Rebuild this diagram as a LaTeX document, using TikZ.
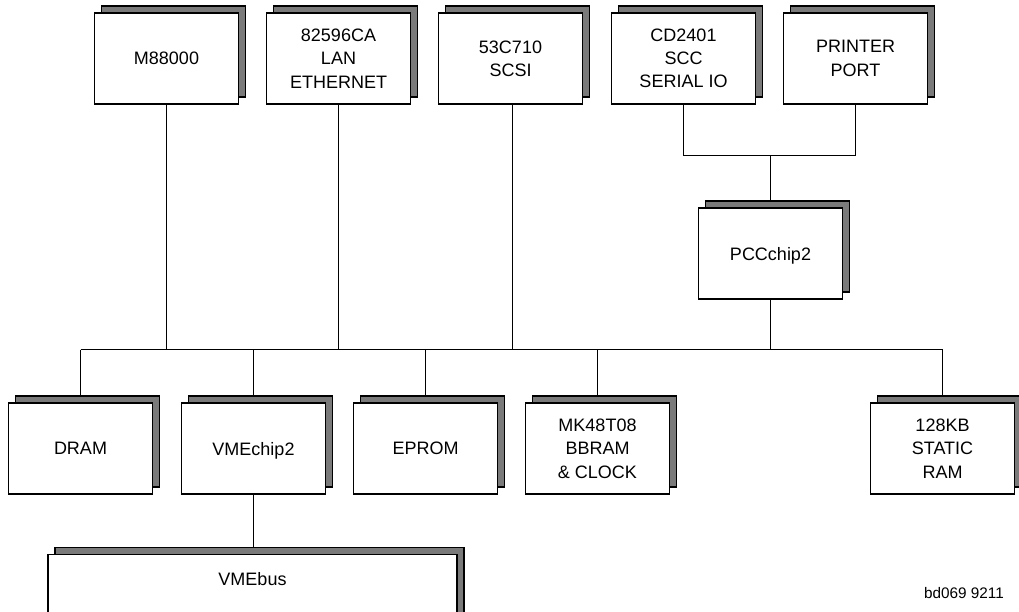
\documentclass[tikz,border=0pt]{standalone}
\usepackage{fontspec}
\setmainfont{Liberation Sans}
\usetikzlibrary{shadows}
\definecolor{shadowgray}{HTML}{7A7A7A}
\pgfdeclarelayer{bg}
\pgfsetlayers{bg,main}
\tikzset{
  chip/.style={draw=black, fill=white, line width=1.2pt, inner sep=0pt,
    minimum width=144pt, minimum height=91pt, align=center,
    font=\fontsize{18}{23.3}\selectfont,
    general shadow={shadow xshift=7pt, shadow yshift=7pt, fill=shadowgray, draw=black, line width=1.2pt}},
  nodesc/.style={text depth=0pt},
  wire/.style={draw=black, line width=1.2pt}
}
\begin{document}
\begin{tikzpicture}[x=1pt, y=-1pt]
\path[use as bounding box, clip] (0,0) rectangle (1019,612);
% top row
\node[chip] (m88) at (166.5,58.5) {M88000};
\node[chip] (lan) at (338.5,58.5) {82596CA\\LAN\\ETHERNET};
\node[chip] (scsi) at (510.5,58.5) {53C710\\SCSI};
\node[chip] (scc) at (683.5,58.5) {CD2401\\SCC\\SERIAL IO};
\node[chip] (prn) at (855.5,58.5) {PRINTER\\PORT};
\node[chip, nodesc] (pcc) at (770.5,253.5) {PCCchip2};
% bottom row
\node[chip] (dram) at (80.5,448.5) {DRAM};
\node[chip, nodesc] (vme) at (253.5,448.5) {VMEchip2};
\node[chip] (eprom) at (425.5,448.5) {EPROM};
\node[chip] (bbram) at (597.5,448.5) {MK48T08\\BBRAM\\\&~CLOCK};
\node[chip] (sram) at (942.5,448.5) {128KB\\STATIC\\RAM};
\node[chip, minimum width=409pt, anchor=north] (vmebus) at (252.5,554) {};
\node[font=\fontsize{18}{23.3}\selectfont, text depth=0pt] (vmebustxt) at (252.5,579) {VMEbus};
\node[font=\fontsize{15.3}{18}\selectfont, text depth=0pt] (tag) at (964,593) {bd069 9211};
\coordinate (j) at (770.5,155.5);
\coordinate (bus) at (0,349.5);
\begin{pgfonlayer}{bg}
\fill[white] (0,0) rectangle (1019,612);
\draw[wire] (scc.south) -- (scc.south |- j) -| (prn.south);
\draw[wire] (j) -- (pcc.north);
\draw[wire] (dram.north |- bus) -- (sram.north |- bus);
\draw[wire] (m88.south) -- (m88.south |- bus);
\draw[wire] (lan.south) -- (lan.south |- bus);
\draw[wire] ([xshift=2pt]scsi.south) -- ([xshift=2pt]scsi.south |- bus);
\draw[wire] (pcc.south) -- (pcc.south |- bus);
\draw[wire] (dram.north |- bus) -- (dram.north);
\draw[wire] (vme.north |- bus) -- (vme.north);
\draw[wire] (eprom.north |- bus) -- (eprom.north);
\draw[wire] (bbram.north |- bus) -- (bbram.north);
\draw[wire] (sram.north |- bus) -- (sram.north);
\draw[wire] (vme.south) -- (vme.south |- vmebus.north);
\end{pgfonlayer}
\end{tikzpicture}
\end{document}
